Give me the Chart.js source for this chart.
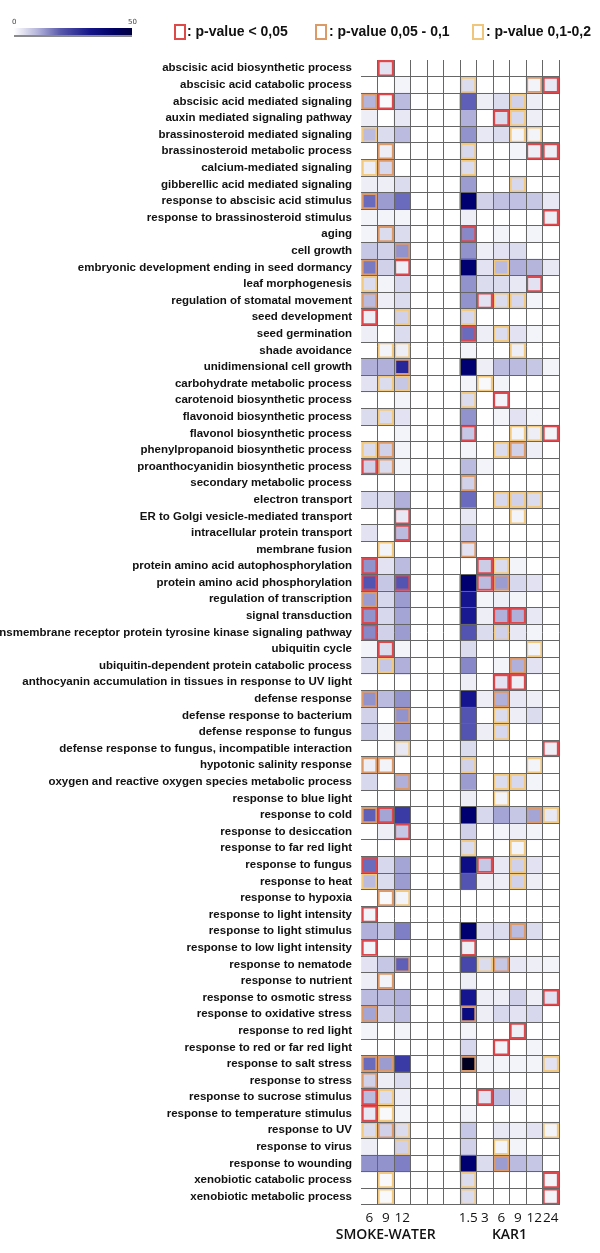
<!DOCTYPE html>
<html>
<head>
<meta charset="utf-8">
<script src="https://cdn.jsdelivr.net/npm/chart.js@4.4.1/dist/chart.umd.min.js"></script>
<style>
html, body { margin: 0; padding: 0; background: #fff; }
#wrap { position: relative; width: 600px; height: 1253px; overflow: hidden; }
#heat { position: absolute; left: 0; top: 0; }
.scale { position: absolute; left: 14px; top: 28px; width: 118px; height: 7px;
  background: linear-gradient(to right, #ffffff, #b4b4da 20%, #5656aa 40%, #141488 65%, #000064 85%, #000040);
  border-bottom: 2px solid #8a8a8a; }
.tiny { position: absolute; top: 18px; font: 7px "DejaVu Sans"; color: #444; }
.box { position: absolute; top: 24px; width: 8px; height: 12px; border: 2px solid; }
.key { position: absolute; top: 23px; font: bold 14px/16px "Liberation Sans", Arial, sans-serif; color: #111; white-space: nowrap; }
</style>
</head>
<body>
<div id="wrap">
  <canvas id="heat" width="600" height="1253"></canvas>
  <div class="scale"></div>
  <div class="tiny" style="left:12px">0</div>
  <div class="tiny" style="left:128px">50</div>
  <div class="box" style="left:174px;border-color:#dd4a4a"></div>
  <div class="key" style="left:187px">: p-value &lt; 0,05</div>
  <div class="box" style="left:315px;border-color:#dc9a68"></div>
  <div class="key" style="left:329px">: p-value 0,05 - 0,1</div>
  <div class="box" style="left:472px;border-color:#efc67c"></div>
  <div class="key" style="left:486px">: p-value 0,1-0,2</div>
</div>
<script>
const rowLabels = [
  'abscisic acid biosynthetic process', 'abscisic acid catabolic process', 'abscisic acid mediated signaling',
  'auxin mediated signaling pathway', 'brassinosteroid mediated signaling', 'brassinosteroid metabolic process',
  'calcium-mediated signaling', 'gibberellic acid mediated signaling', 'response to abscisic acid stimulus',
  'response to brassinosteroid stimulus', 'aging', 'cell growth',
  'embryonic development ending in seed dormancy', 'leaf morphogenesis', 'regulation of stomatal movement',
  'seed development', 'seed germination', 'shade avoidance',
  'unidimensional cell growth', 'carbohydrate metabolic process', 'carotenoid biosynthetic process',
  'flavonoid biosynthetic process', 'flavonol biosynthetic process', 'phenylpropanoid biosynthetic process',
  'proanthocyanidin biosynthetic process', 'secondary metabolic process', 'electron transport',
  'ER to Golgi vesicle-mediated transport', 'intracellular protein transport', 'membrane fusion',
  'protein amino acid autophosphorylation', 'protein amino acid phosphorylation', 'regulation of transcription',
  'signal transduction', 'transmembrane receptor protein tyrosine kinase signaling pathway', 'ubiquitin cycle',
  'ubiquitin-dependent protein catabolic process', 'anthocyanin accumulation in tissues in response to UV light', 'defense response',
  'defense response to bacterium', 'defense response to fungus', 'defense response to fungus, incompatible interaction',
  'hypotonic salinity response', 'oxygen and reactive oxygen species metabolic process', 'response to blue light',
  'response to cold', 'response to desiccation', 'response to far red light',
  'response to fungus', 'response to heat', 'response to hypoxia',
  'response to light intensity', 'response to light stimulus', 'response to low light intensity',
  'response to nematode', 'response to nutrient', 'response to osmotic stress',
  'response to oxidative stress', 'response to red light', 'response to red or far red light',
  'response to salt stress', 'response to stress', 'response to sucrose stimulus',
  'response to temperature stimulus', 'response to UV', 'response to virus',
  'response to wounding', 'xenobiotic catabolic process', 'xenobiotic metabolic process'
];

// columns of the grid (3 empty spacer columns between the two groups)
const colLabels = ['6', '9', '12', '', '', '', '1.5', '3', '6', '9', '12', '24'];
const groupLabels = ['SMOKE-WATER', 'KAR1'];
const groupCols = [[0, 3], [6, 12]];

// colour value (0-50) per row
const sw6 = [0,0,13,3,12,0,3,3,28,2, 2,10,25,6,12,3,3,0,14,5, 0,6,0,6,8,0,7,0,5,0,
  20,32,18,20,22,2,6,0,20,8, 10,0,3,7,0,30,0,0,28,12, 0,2,14,2,5,3,12,16,2,0, 28,8,12,4,6,3,20,0,0];
const sw9 = [5,0,1,0,6,3,7,3,18,2, 6,8,8,2,3,0,0,2,14,6, 0,6,0,8,6,0,6,0,0,2,
  5,10,7,7,8,6,10,0,12,0, 2,0,2,0,0,16,3,0,7,6, 1,0,10,0,10,2,12,8,0,0, 18,3,6,1,8,0,20,1,1];
const sw12 = [0,2,12,4,12,0,0,6,28,2, 6,20,3,7,6,8,6,3,40,10, 2,5,2,2,2,0,14,4,12,0,
  12,32,18,16,18,2,14,0,20,20, 18,4,0,14,0,36,10,0,16,18, 2,0,24,0,30,0,14,12,2,0, 36,6,3,2,6,8,24,0,0];
const kar1_5 = [0,6,30,14,20,7,6,18,50,3, 22,20,50,20,20,7,28,2,50,2, 6,20,10,2,12,8,28,4,10,5,
  0,50,44,43,32,6,22,3,44,32, 32,6,8,18,3,50,8,6,46,32, 0,0,50,3,34,3,44,47,2,7, 60,0,0,2,10,8,50,6,6];
const kar3 = [0,0,3,0,4,0,0,0,8,0, 0,3,5,6,5,0,3,0,3,1, 0,0,0,0,2,0,0,0,0,0,
  9,12,2,3,6,0,0,0,3,0, 3,0,0,0,0,7,0,0,10,3, 0,0,5,0,6,0,3,3,0,0, 2,0,5,0,0,0,6,0,0];
const kar6 = [0,0,6,6,6,0,0,0,11,0, 2,5,12,6,6,0,6,0,12,2, 2,2,0,6,0,0,7,0,0,0,
  6,18,3,14,8,0,2,5,14,6, 7,0,0,6,2,16,2,0,4,3, 0,0,6,0,10,0,3,7,0,2, 2,0,12,0,4,2,18,0,0];
const kar9 = [0,0,8,7,2,2,0,7,11,0, 0,6,14,4,7,0,5,3,12,0, 0,5,2,8,0,0,8,2,0,0,
  2,7,2,14,4,0,14,3,4,3, 0,0,0,7,0,10,3,2,8,8, 0,0,12,0,4,0,8,5,3,0, 2,0,3,0,3,2,12,0,0];
const kar12 = [0,2,3,3,2,3,0,0,10,0, 2,0,13,5,2,0,2,0,10,0, 0,2,3,3,0,0,6,0,0,0,
  0,5,0,4,2,2,5,0,3,6, 0,0,2,2,0,16,2,0,5,3, 0,0,6,0,3,0,3,7,0,2, 2,0,0,0,5,0,10,0,0];
const kar24 = [0,4,0,0,0,3,0,0,4,3, 0,0,4,0,0,0,0,0,2,0, 0,0,2,0,0,0,0,0,0,0,
  0,0,0,0,0,0,0,0,0,0, 0,3,0,0,0,4,0,0,0,0, 0,0,0,0,2,0,5,0,0,0, 5,0,0,0,2,0,0,2,2];

// p-value class per row: 0 none, 1 < 0.05, 2 0.05-0.1, 3 0.1-0.2
const sw6P = [0,0,2,0,3,0,3,0,2,0, 0,0,2,3,2,1,0,0,0,0, 0,0,0,3,1,0,0,0,0,0,
  1,1,2,1,1,0,0,0,2,0, 0,0,2,0,0,2,0,0,1,3, 0,1,0,1,0,0,0,2,0,0, 2,2,1,1,3,0,0,0,0];
const sw9P = [1,0,1,0,0,2,2,0,0,0, 2,0,0,0,0,0,0,3,0,3, 0,3,0,2,2,0,0,0,0,3,
  0,0,0,0,0,1,3,0,0,0, 0,0,2,0,0,1,0,0,0,0, 2,0,0,0,0,2,0,0,0,0, 2,0,3,3,2,0,0,3,3];
const sw12P = [0,0,0,0,0,0,0,0,0,0, 0,2,1,0,0,3,0,3,2,3, 0,0,0,0,0,0,0,1,1,0,
  0,1,0,0,0,0,0,0,0,2, 0,3,0,2,0,0,1,0,0,0, 3,0,0,0,2,0,0,0,0,0, 0,0,0,0,3,3,0,0,0];
const kar1_5P = [0,3,0,0,0,3,3,0,0,0, 1,0,0,0,0,3,1,0,0,0, 3,0,1,0,0,2,0,0,0,2,
  0,0,0,0,0,0,0,0,0,0, 0,0,3,0,0,0,0,3,0,0, 0,0,0,1,0,0,0,2,0,0, 2,0,0,0,0,0,0,3,3];
const kar3P = [0,0,0,0,0,0,0,0,0,0, 0,0,0,0,1,0,0,0,0,3, 0,0,0,0,0,0,0,0,0,0,
  1,1,0,0,0,0,0,0,0,0, 0,0,0,0,0,0,0,0,1,0, 0,0,0,0,3,0,0,0,0,0, 0,0,1,0,0,0,0,0,0];
const kar6P = [0,0,0,1,0,0,0,0,0,0, 0,0,3,0,3,0,3,0,0,0, 1,0,0,3,0,0,3,0,0,0,
  3,2,0,1,3,0,0,1,2,3, 3,0,0,3,3,0,0,0,0,0, 0,0,0,0,2,0,0,0,0,1, 0,0,0,0,0,3,2,0,0];
const kar9P = [0,0,3,3,3,0,0,3,0,0, 0,0,0,0,3,0,0,3,0,0, 0,0,3,2,0,0,3,3,0,0,
  0,0,0,1,0,0,2,1,0,0, 0,0,0,3,0,0,0,3,3,3, 0,0,2,0,0,0,0,0,1,0, 0,0,0,0,0,0,0,0,0];
const kar12P = [0,2,0,0,3,1,0,0,0,0, 0,0,0,1,0,0,0,0,0,0, 0,0,3,0,0,0,3,0,0,0,
  0,0,0,0,0,3,0,0,0,0, 0,0,3,0,0,2,0,0,0,0, 0,0,0,0,0,0,0,0,0,0, 0,0,0,0,0,0,0,0,0];
const kar24P = [0,1,0,0,0,1,0,0,0,1, 0,0,0,0,0,0,0,0,0,0, 0,0,1,0,0,0,0,0,0,0,
  0,0,0,0,0,0,0,0,0,0, 0,1,0,0,0,3,0,0,0,0, 0,0,0,0,0,0,1,0,0,0, 3,0,0,0,3,0,0,1,1];

const series = [
  { col: 0, values: sw6, p: sw6P },
  { col: 1, values: sw9, p: sw9P },
  { col: 2, values: sw12, p: sw12P },
  { col: 6, values: kar1_5, p: kar1_5P },
  { col: 7, values: kar3, p: kar3P },
  { col: 8, values: kar6, p: kar6P },
  { col: 9, values: kar9, p: kar9P },
  { col: 10, values: kar12, p: kar12P },
  { col: 11, values: kar24, p: kar24P }
];

const stops = [
  [0, [255, 255, 255]], [0.1, [226, 226, 242]], [0.3, [170, 170, 215]], [0.55, [110, 110, 190]],
  [0.75, [50, 50, 160]], [0.9, [16, 16, 140]], [1, [0, 0, 112]], [1.2, [0, 0, 32]]
];
function fillColor(v) {
  if (!v) return 'rgba(0,0,0,0)';
  const t = Math.min(v / 50, 1.2);
  for (let i = 1; i < stops.length; i++) {
    if (t <= stops[i][0]) {
      const [t0, c0] = stops[i - 1];
      const [t1, c1] = stops[i];
      const f = (t - t0) / (t1 - t0);
      const c = c0.map((x, k) => Math.round(x + (c1[k] - x) * f));
      return `rgb(${c[0]},${c[1]},${c[2]})`;
    }
  }
  return 'rgb(0,0,32)';
}
const pColors = [null, 'rgba(215,40,45,0.85)', 'rgba(214,135,80,0.85)', 'rgba(240,195,115,0.9)'];

const datasets = series.map(s => ({
  data: rowLabels.map(() => [s.col, s.col + 1]),
  backgroundColor: s.values.map(fillColor),
  borderColor: s.p.map(p => pColors[p] || 'rgba(0,0,0,0)'),
  borderWidth: s.p.map(p => (p ? 2.5 : 0)),
  borderSkipped: false,
  grouped: false,
  barPercentage: 1,
  categoryPercentage: 1
}));

function fixedTicks(values) {
  return scale => { scale.ticks = values.map(v => ({ value: v })); };
}
const colCenters = colLabels.map((l, i) => i + 0.5).filter((v, i) => colLabels[i] !== '');
const groupCenters = groupCols.map(g => (g[0] + g[1]) / 2);

new Chart(document.getElementById('heat'), {
  type: 'bar',
  data: { labels: rowLabels, datasets },
  options: {
    indexAxis: 'y',
    responsive: false,
    animation: false,
    events: [],
    layout: { padding: { top: 60, right: 41, bottom: 3, left: 0 } },
    plugins: { legend: { display: false }, tooltip: { enabled: false } },
    scales: {
      y: {
        type: 'category',
        border: { display: false },
        grid: {
          z: 1,
          drawTicks: false,
          color: ctx => (ctx.index === 0 || ctx.index >= rowLabels.length ? 'rgba(0,0,0,0)' : '#666')
        },
        ticks: {
          autoSkip: false,
          padding: 9,
          color: '#111',
          font: { family: '"Liberation Sans", Arial, sans-serif', size: 11.5, weight: 'bold' }
        },
        afterFit: scale => { scale.width = 361; }
      },
      x: {
        type: 'linear', min: 0, max: colLabels.length, position: 'bottom',
        border: { display: false },
        grid: { z: 1, drawTicks: false, color: ctx => (ctx.tick.value === 0 ? 'rgba(0,0,0,0)' : '#666') },
        ticks: { stepSize: 1, display: false },
        afterFit: scale => { scale.height = 0; }
      },
      xCols: {
        type: 'linear', min: 0, max: colLabels.length, position: 'bottom',
        border: { display: false },
        grid: { display: false, drawTicks: false },
        afterBuildTicks: fixedTicks(colCenters),
        ticks: {
          autoSkip: false, maxRotation: 0, padding: 5, color: '#111',
          font: { family: '"Open Sans", sans-serif', size: 13.5 },
          callback: v => colLabels[Math.floor(v)]
        },
        afterFit: scale => { scale.height = 22; }
      },
      xGroups: {
        type: 'linear', min: 0, max: colLabels.length, position: 'bottom',
        border: { display: false },
        grid: { display: false, drawTicks: false },
        afterBuildTicks: fixedTicks(groupCenters),
        ticks: {
          autoSkip: false, maxRotation: 0, padding: 0, color: '#111',
          font: { family: '"Open Sans", sans-serif', size: 14, weight: '600' },
          callback: v => groupLabels[groupCenters.indexOf(v)]
        },
        afterFit: scale => { scale.height = 23; }
      }
    }
  }
});
</script>
</body>
</html>
